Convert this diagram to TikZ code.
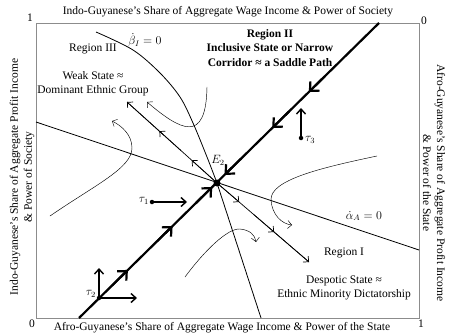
\documentclass[tikz,border=0pt]{standalone}
\usepackage{fontspec}
\setmainfont{Liberation Serif}
\usetikzlibrary{arrows.meta,calc}
\begin{document}
\begin{tikzpicture}[x=1pt,y=-1pt,
  lbl/.style={font=\fontsize{11.5}{14}\selectfont, inner sep=0pt, align=center},
  blbl/.style={font=\fontsize{11.5}{14.5}\selectfont\bfseries, inner sep=0pt, align=center},
  mlbl/.style={font=\fontsize{12}{14}\selectfont, inner sep=0pt},
  frameline/.style={draw=black!45, line width=0.9pt},
  nullcline/.style={line width=0.8pt},
  flowline/.style={line width=0.7pt},
  flowtip/.style={line width=0.7pt, -{Straight Barb[length=4pt,width=8pt]}},
  curvetip/.style={line width=0.45pt, -{Straight Barb[length=4pt,width=8pt]}},
  saddle/.style={line width=2.2pt},
  saddletip/.style={line width=2.2pt, -{Straight Barb[length=7pt,width=13pt]}},
  shock/.style={line width=1.4pt, -{Straight Barb[length=5pt,width=9pt]}},
  dotnode/.style={circle, fill, inner sep=0pt, minimum size=#1},
]
\useasboundingbox (0,0) rectangle (449,334);

% frame
\coordinate (TL) at (36,23);
\coordinate (TR) at (419,23);
\coordinate (BL) at (36,318);
\coordinate (BR) at (419,318);
\draw[frameline] (TL) -- (TR) -- (BR) -- (BL) -- cycle;

% axis labels
\node[lbl] (top) at (228,12) {Indo-Guyanese's Share of Aggregate Wage Income \& Power of Society};
\node[lbl] (bot) at (222,328) {Afro-Guyanese's Share of Aggregate Wage Income \& Power of the State};
\node[lbl, rotate=90] (left) at (22,177) {Indo-Guyanese's Share of Aggregate Profit Income\\\& Power of Society};
\node[lbl, rotate=-90] (right) at (434,183) {Afro-Guyanese's Share of Aggregate Profit Income\\\& Power of the State};
\node[lbl] (one1) at (30,18) {1};
\node[lbl] (zero1) at (424,21) {0};
\node[lbl] (zero2) at (32,324) {0};
\node[lbl] (one2) at (421,324) {1};

% equilibrium
\coordinate (E) at (217,183);

% alpha nullcline
\coordinate (AL) at (36,122);
\coordinate (AR) at (419,250);
\draw[nullcline] (AL) -- (AR);

% beta nullcline
\coordinate (BB) at (261,318);
\draw[nullcline] plot[smooth, tension=0.55] coordinates {(96,32) (133,50) (160,73) (180,97) (193,123) (207,157) (217,183)} -- (BB);

% unstable straight flows
\coordinate (NW) at (127,102);
\coordinate (SE) at (309,262);
\draw[flowline] (E) -- (NW);
\draw[flowtip] (E) -- ($(E)!0.28!(NW)$);
\draw[flowtip] ($(E)!0.4!(NW)$) -- ($(E)!0.64!(NW)$);
\draw[flowtip] ($(E)!0.6!(NW)$) -- (NW);
\draw[flowline] (E) -- (SE);
\draw[flowtip] (E) -- ($(E)!0.24!(SE)$);
\draw[flowtip] ($(E)!0.4!(SE)$) -- ($(E)!0.62!(SE)$);
\draw[flowtip] ($(E)!0.6!(SE)$) -- (SE);

% curved flows
\coordinate (C1a) at (207,87);  \coordinate (C1b) at (147,102);
\draw[curvetip] (C1a) .. controls (206,145) and (180,130) .. (C1b);
\coordinate (C2a) at (50,216);  \coordinate (C2m) at (132,148); \coordinate (C2b) at (112,121);
\draw[curvetip] (C2a) .. controls (95,185) and (132,168) .. (C2m) .. controls (132,135) and (122,126) .. (C2b);
\coordinate (C3a) at (377,156); \coordinate (C3m) at (271,200); \coordinate (C3b) at (292,225);
\draw[curvetip] (C3a) .. controls (320,168) and (270,180) .. (C3m) .. controls (272,215) and (282,224) .. (C3b);
\coordinate (C4a) at (185,277); \coordinate (C4m) at (240,229); \coordinate (C4b) at (256,242);
\draw[curvetip] (C4a) .. controls (205,250) and (228,228) .. (C4m) .. controls (250,230) and (255,235) .. (C4b);

% saddle path
\coordinate (ST) at (379,23);
\coordinate (SB) at (79,318);
\draw[saddle] (ST) -- (SB);
\draw[saddletip] ($(ST)!0.18!(SB)$) -- ($(ST)!0.234!(SB)$);
\draw[saddletip] ($(ST)!0.30!(SB)$) -- ($(ST)!0.356!(SB)$);
\draw[saddletip] ($(ST)!0.46!(SB)$) -- ($(ST)!0.515!(SB)$);
\draw[saddletip] ($(ST)!0.61!(SB)$) -- ($(ST)!0.556!(SB)$);
\draw[saddletip] ($(ST)!0.74!(SB)$) -- ($(ST)!0.688!(SB)$);
\draw[saddletip] ($(ST)!0.89!(SB)$) -- ($(ST)!0.837!(SB)$);

\node[dotnode=7pt] (E2) at (E) {};
\node[mlbl] (E2l) at (218,160) {$E_2$};

% shocks
\node[dotnode=4.5pt] (t1) at (152,202) {};
\coordinate (t1e) at (187,202);
\draw[shock] (t1) -- (t1e);
\node[mlbl, anchor=east] (t1l) at (149,201) {$\tau_1$};

\node[dotnode=4.5pt] (t2) at (99,298) {};
\coordinate (t2u) at (99,268);
\coordinate (t2r) at (137,298);
\draw[shock] (t2) -- (t2u);
\draw[shock] (t2) -- (t2r);
\node[mlbl, anchor=east] (t2l) at (96,294) {$\tau_2$};

\node[dotnode=4.5pt] (t3) at (301,138) {};
\coordinate (t3u) at (301,108);
\draw[shock] (t3) -- (t3u);
\node[mlbl, anchor=west] (t3l) at (305,140) {$\tau_3$};

% nullcline labels
\node[mlbl] (bl) at (145,40) {$\dot{\beta}_I = 0$};
\node[mlbl] (al) at (364,216) {$\dot{\alpha}_A = 0$};

% region labels
\node[lbl] (r3) at (93,49) {Region III};
\node[lbl] (r3t) at (93,84) {Weak State ≈\\Dominant Ethnic Group};
\node[blbl] (r2) at (270,48) {Region II\\Inclusive State or Narrow\\Corridor ≈ a Saddle Path};
\node[lbl] (r1) at (344,253) {Region I};
\node[lbl] (r1t) at (344,288) {Despotic State ≈\\Ethnic Minority Dictatorship};
\end{tikzpicture}
\end{document}
